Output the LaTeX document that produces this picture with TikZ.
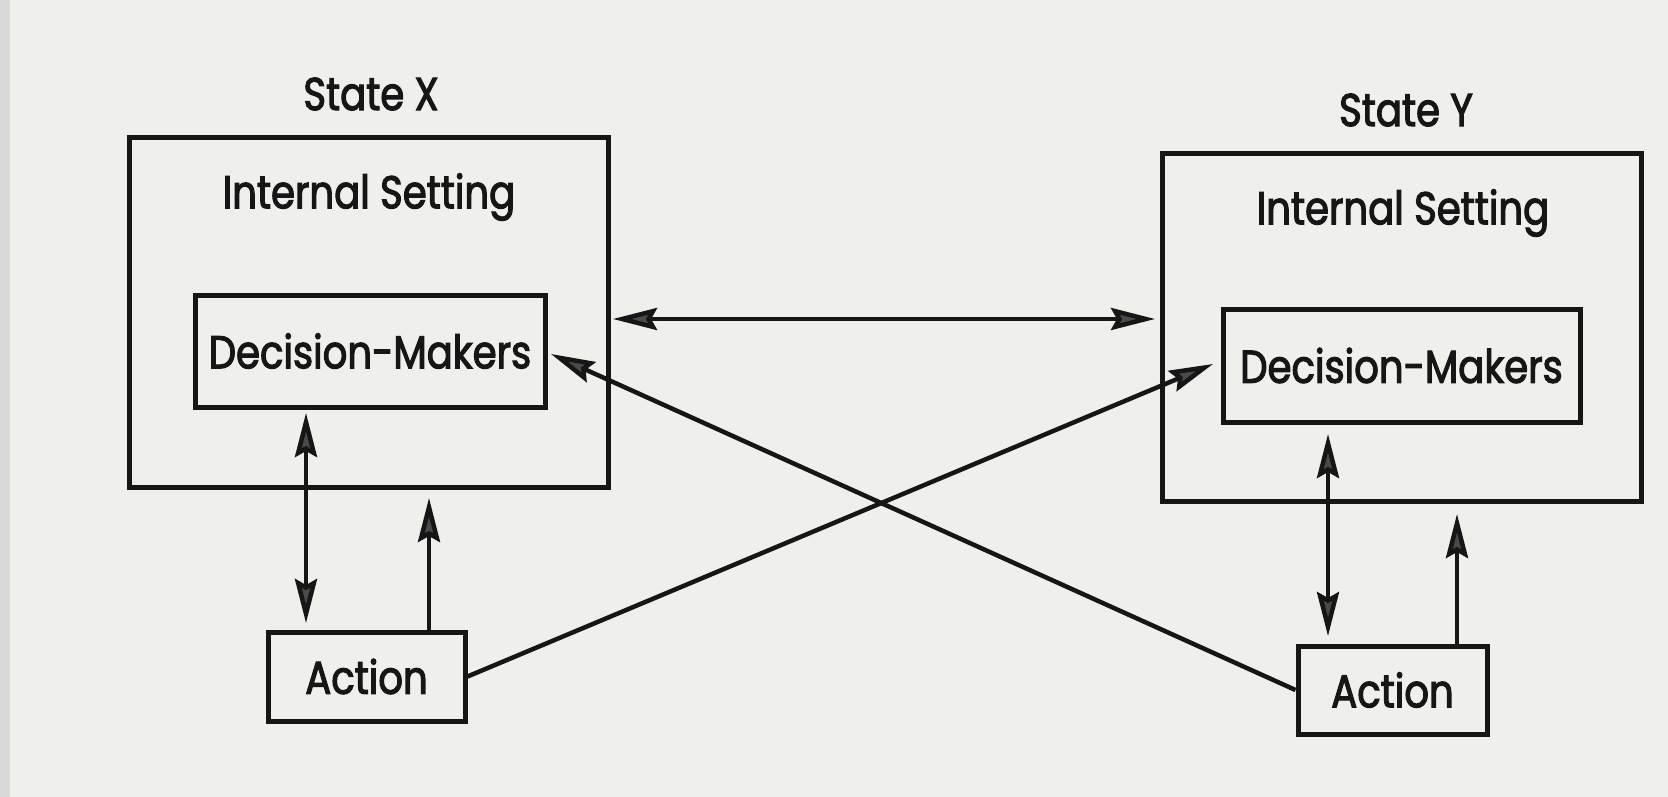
\documentclass[tikz,border=0pt]{standalone}
\usepackage{fontspec}
\setmainfont{Poppins}
\newfontfamily\lblfont{Poppins}[FakeStretch=0.84,FakeBold=2.4]
\usetikzlibrary{arrows.meta}
\definecolor{paper}{HTML}{EFEFEC}
\definecolor{strip}{HTML}{D9DAD9}
\definecolor{ink}{HTML}{161616}
\definecolor{headgray}{HTML}{4A4A4A}
\begin{document}
\begin{tikzpicture}[x=1pt,y=-1pt,
  box/.style={draw=ink,line width=5pt,inner sep=0pt},
  lbl/.style={text=ink,font=\lblfont\fontsize{46}{50}\selectfont,inner sep=0pt},
  tip/.tip={Stealth[length=44pt,width=22pt,inset=6pt,fill=headgray]},
  arr/.style={draw=ink,line width=4.5pt,-tip},
  darr/.style={draw=ink,line width=4.5pt,tip-tip}]
\fill[paper] (0,0) rectangle (1668,797);
\fill[strip] (0,0) rectangle (10,797);
\useasboundingbox (0,0) rectangle (1668,797);
% State X
\node[box,minimum width=479pt,minimum height=349pt] (bx) at (368.5,312.5) {};
\node[lbl] (sx) at (371,94) {State X};
\node[lbl] (isx) at (369,197) {Internal Setting};
\node[box,minimum width=350pt,minimum height=112pt] (dmx) at (370,351) {};
\node[lbl] at (dmx) {Decision-Makers};
\node[box,minimum width=197pt,minimum height=89pt] (ax) at (366.5,676.5) {};
\node[lbl] at (ax) {Action};
% State Y
\node[box,minimum width=479pt,minimum height=347pt] (by) at (1401.5,327.5) {};
\node[lbl] (sy) at (1406,110) {State Y};
\node[lbl] (isy) at (1403,213) {Internal Setting};
\node[box,minimum width=357pt,minimum height=113pt] (dmy) at (1401.5,365.5) {};
\node[lbl] at (dmy) {Decision-Makers};
\node[box,minimum width=189pt,minimum height=88pt] (ay) at (1392.5,690) {};
\node[lbl] at (ay) {Action};
% connectors
\coordinate (xa1) at (306,413);
\coordinate (xa2) at (306,623);
\draw[darr] (xa1) -- (xa2);
\coordinate (xs2) at (429,498);
\coordinate (xs1) at (ax.north -| xs2);
\draw[arr] (xs1) -- (xs2);
\coordinate (ya1) at (1328,434);
\coordinate (ya2) at (1328,636);
\draw[darr] (ya1) -- (ya2);
\coordinate (ys2) at (1457,514);
\coordinate (ys1) at (ay.north -| ys2);
\draw[arr] (ys1) -- (ys2);
\coordinate (h1) at (613,319);
\coordinate (h2) at (1155,319);
\draw[darr] (h1) -- (h2);
\coordinate (c1e) at (1213,364);
\draw[arr] (ax.east) -- (c1e);
\coordinate (c2e) at (551,354);
\draw[arr] (ay.west) -- (c2e);
\end{tikzpicture}
\end{document}
